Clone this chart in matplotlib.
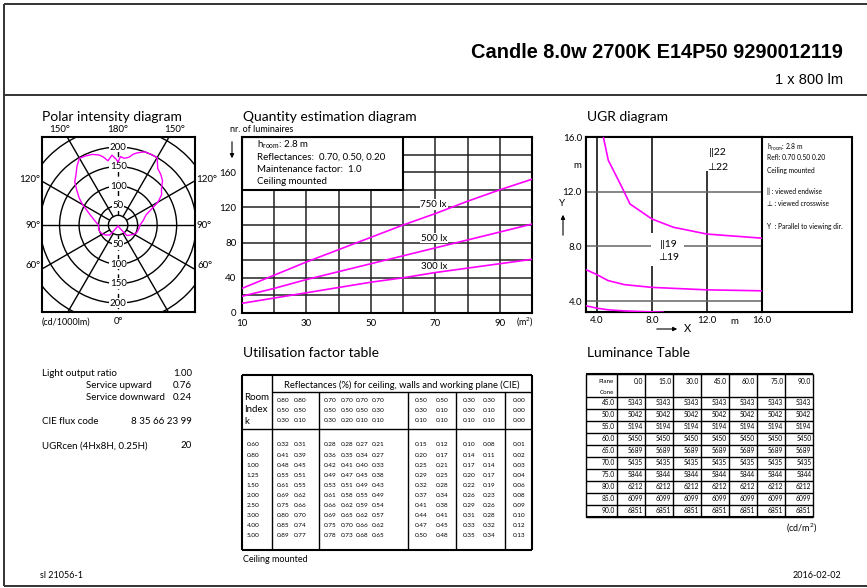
import numpy as np
import matplotlib
matplotlib.use('Agg')
import matplotlib.pyplot as plt
from matplotlib.patches import Rectangle, Circle

plt.rcParams['font.family'] = ['Lato', 'DejaVu Sans']
plt.rcParams['mathtext.fontset'] = 'custom'
plt.rcParams['mathtext.rm'] = 'Lato'
plt.rcParams['mathtext.it'] = 'Lato:italic'

W, H = 867, 588
MAGENTA = '#ff00ff'

# --- polar intensity diagram (cd/1000lm), gamma 0 = straight down
gamma = [0, 10, 20, 30, 40, 50, 60, 70, 80, 90, 100, 110, 120, 125, 130, 135,
         140, 145, 150, 155, 160, 165, 168, 171, 175, 178, 180]
i_left = [3, 3, 4, 8, 33, 40, 46, 50, 51, 50, 60, 76, 105, 122, 138, 157,
          168, 184, 198, 196, 193, 186, 178, 167, 180, 170, 162]
i_right = [3, 3, 4, 10, 35, 40, 47, 52, 54, 56, 65, 76, 118, 136, 145, 161,
           170, 177, 200, 200, 200, 192, 186, 176, 172, 176, 162]
polar_rings = [50, 100, 150, 200]

# --- quantity estimation diagram
area = [10, 20, 30, 40, 50, 60, 70, 80, 90, 100]
n_750 = [28, 43, 58, 72, 86, 100, 113, 127, 140, 152]
n_500 = [19, 28, 38, 47, 56, 65, 74, 83, 92, 101]
n_300 = [11, 17, 23, 29, 35, 40, 46, 51, 56, 61]

# --- UGR diagram
ugr22_x = [4.46, 4.82, 5.8, 6.4, 8.0, 9.55, 12.0, 16.0]
ugr22_y = [16.0, 14.3, 12.35, 11.1, 10.0, 9.4, 8.9, 8.6]
ugr19_x = [3.2, 4.0, 4.8, 6.0, 8.0, 12.0, 16.0]
ugr19_y = [6.3, 5.93, 5.5, 5.2, 5.0, 4.82, 4.75]
ugr_lo_x = [3.2, 4.0, 4.8, 6.0, 7.5, 8.8]
ugr_lo_y = [3.65, 3.48, 3.36, 3.28, 3.22, 3.19]

# --- utilisation factor table
refl_ceiling = ['0.80', '0.80', '0.70', '0.70', '0.70', '0.70', '0.50', '0.50', '0.30', '0.30', '0.00']
refl_walls = ['0.50', '0.50', '0.50', '0.50', '0.50', '0.30', '0.30', '0.10', '0.30', '0.10', '0.00']
refl_plane = ['0.30', '0.10', '0.30', '0.20', '0.10', '0.10', '0.10', '0.10', '0.10', '0.10', '0.00']
room_index = ['0.60', '0.80', '1.00', '1.25', '1.50', '2.00', '2.50', '3.00', '4.00', '5.00']
uf = [
    [0.32, 0.31, 0.28, 0.28, 0.27, 0.21, 0.15, 0.12, 0.10, 0.08, 0.01],
    [0.41, 0.39, 0.36, 0.35, 0.34, 0.27, 0.20, 0.17, 0.14, 0.11, 0.02],
    [0.48, 0.45, 0.42, 0.41, 0.40, 0.33, 0.25, 0.21, 0.17, 0.14, 0.03],
    [0.55, 0.51, 0.49, 0.47, 0.45, 0.38, 0.29, 0.25, 0.20, 0.17, 0.04],
    [0.61, 0.55, 0.53, 0.51, 0.49, 0.43, 0.32, 0.28, 0.22, 0.19, 0.06],
    [0.69, 0.62, 0.61, 0.58, 0.55, 0.49, 0.37, 0.34, 0.26, 0.23, 0.08],
    [0.75, 0.66, 0.66, 0.62, 0.59, 0.54, 0.41, 0.38, 0.29, 0.26, 0.09],
    [0.80, 0.70, 0.69, 0.65, 0.62, 0.57, 0.44, 0.41, 0.31, 0.28, 0.10],
    [0.85, 0.74, 0.75, 0.70, 0.66, 0.62, 0.47, 0.45, 0.33, 0.32, 0.12],
    [0.89, 0.77, 0.78, 0.73, 0.68, 0.65, 0.50, 0.48, 0.35, 0.34, 0.13],
]

# --- luminance table (cd/m2)
lum_planes = ['0.0', '15.0', '30.0', '45.0', '60.0', '75.0', '90.0']
lum_cones = ['45.0', '50.0', '55.0', '60.0', '65.0', '70.0', '75.0', '80.0', '85.0', '90.0']
lum_values = [5343, 5042, 5194, 5450, 5689, 5435, 5844, 6212, 6099, 6851]

# --- general info
info_rows = [
    ('Light output ratio', '1.00', 42),
    ('Service upward', '0.76', 86),
    ('Service downward', '0.24', 86),
]
cie_flux_code = '8 35 66 23 99'
ugr_cen = '20'


def box(x0, y0, x1, y1):
    """figure rect from pixel box (origin top-left)"""
    return [x0 / W, 1 - y1 / H, (x1 - x0) / W, (y1 - y0) / H]


fig = plt.figure(figsize=(W / 100, H / 100), dpi=100)
page = fig.add_axes([0, 0, 1, 1])
page.set_xlim(0, W)
page.set_ylim(H, 0)
page.axis('off')


def line(x, y, lw=1.0, color='k', **kw):
    page.plot(x, y, color=color, lw=lw, solid_capstyle='butt', **kw)


def txt(x, y, s, size=7, ha='left', **kw):
    page.text(x, y, s, fontsize=size, ha=ha, va='center', **kw)


def arrow(x0, y0, x1, y1):
    page.annotate('', xy=(x1, y1), xytext=(x0, y0),
                  arrowprops=dict(arrowstyle='-|>', lw=0.8, color='k', mutation_scale=6))


# page frame and header
line([4, W], [4, 4], lw=1.4, color='#333')
line([4, W], [95, 95], lw=1.4, color='#333')
line([4, 4], [4, 586], lw=1.4, color='#333')
line([4, W], [586, 586], lw=1.4, color='#333')
txt(843, 52, 'Candle 8.0w 2700K E14P50 9290012119', size=14.4, ha='right',
    family='Liberation Sans', weight='bold')
txt(843, 80, '1 x 800 lm', size=10.5, ha='right', family='Liberation Sans')

# section titles
txt(42, 117, 'Polar intensity diagram', size=10)
txt(243, 117, 'Quantity estimation diagram', size=10)
txt(587, 117, 'UGR diagram', size=10)
txt(243, 353, 'Utilisation factor table', size=10)
txt(587, 353, 'Luminance Table', size=10)

# ---------------- polar intensity diagram
pax = fig.add_axes(box(42, 137, 195, 312))
pax.set_xlim(-195, 197)
pax.set_ylim(-223, 226)
pax.set_xticks([])
pax.set_yticks([])
for s in pax.spines.values():
    s.set_linewidth(1.5)
for r in [25] + polar_rings + [250]:
    pax.add_patch(Circle((0, 0), r, fill=False, lw=1.0, color='k'))
for a in [30, 60, 120, 150]:
    t = np.radians(a)
    for sgn in (-1, 1):
        pax.plot([sgn * 25 * np.sin(t), sgn * 400 * np.sin(t)],
                 [-25 * np.cos(t), -400 * np.cos(t)], color='k', lw=1.0)
pax.plot([-400, 400], [0, 0], color='k', lw=1.0)
pax.plot([0, 0], [25, 400], color='k', lw=1.0, dashes=(4, 3))
pax.plot([0, 0], [-25, -400], color='k', lw=1.0, dashes=(4, 3))
for r in polar_rings:
    for sgn in (1, -1):
        pax.text(0, sgn * r, str(r), fontsize=7, ha='center', va='center',
                 bbox=dict(fc='white', ec='none', pad=0.4))
g = np.radians(gamma)
xr = np.array(i_right) * np.sin(g)
yr = -np.array(i_right) * np.cos(g)
xl = -np.array(i_left) * np.sin(g)
yl = -np.array(i_left) * np.cos(g)
pax.plot(np.concatenate([xr, xl[::-1]]), np.concatenate([yr, yl[::-1]]),
         color=MAGENTA, lw=1.0, zorder=5)

txt(60, 129, '150°', ha='center')
txt(118, 129, '180°', ha='center')
txt(175, 129, '150°', ha='center')
txt(30, 179, '120°', ha='center')
txt(207, 179, '120°', ha='center')
txt(33, 225, '90°', ha='center')
txt(204, 225, '90°', ha='center')
txt(33, 265, '60°', ha='center')
txt(205, 265, '60°', ha='center')
txt(66, 322, '(cd/1000lm)', ha='center', size=6.5)
txt(118, 322, '0°', ha='center')
txt(168, 299, 'γ', ha='center', size=7)
arrow(173, 300, 184, 292)

# ---------------- quantity estimation diagram
qax = fig.add_axes(box(242, 137, 532, 313))
qax.set_xlim(10, 100)
qax.set_ylim(0, 200)
for x in range(20, 100, 10):
    qax.axvline(x, color='#222', lw=1.1, zorder=1)
for y in range(20, 200, 20):
    qax.axhline(y, color='#222', lw=1.1, zorder=1)
qax.add_patch(Rectangle((10, 140), 50, 60, fc='white', ec='k', lw=1.5, zorder=2))
qax.text(14.7, 191, r'h$_{\mathrm{room}}$: 2.8 m', fontsize=7, va='center', zorder=3)
qax.text(14.7, 177, 'Reflectances:  0.70, 0.50, 0.20', fontsize=7, va='center', zorder=3)
qax.text(14.7, 163, 'Maintenance factor:  1.0', fontsize=7, va='center', zorder=3)
qax.text(14.7, 150, 'Ceiling mounted', fontsize=7, va='center', zorder=3)
for vals, lab, ly in [(n_750, '750 lx', 123.5), (n_500, '500 lx', 85), (n_300, '300 lx', 53)]:
    qax.plot(area, vals, color=MAGENTA, lw=1.2, zorder=4)
    qax.text(69.5, ly, lab, fontsize=7, ha='center', va='center', zorder=3,
             bbox=dict(fc='white', ec='none', pad=0.5))
qax.set_xticks([10, 30, 50, 70, 90])
qax.set_yticks([0, 40, 80, 120, 160])
qax.tick_params(length=0, labelsize=7, pad=4)
for s in qax.spines.values():
    s.set_linewidth(1.5)
txt(230, 130, 'nr. of luminaires', size=6.5)
arrow(232, 139, 232, 161)
txt(525, 322, '(m$^2$)', ha='center', size=6.5)

# ---------------- UGR diagram
page.add_patch(Rectangle((586, 137), 266, 175, fill=False, ec='k', lw=1.5))
uax = fig.add_axes(box(586, 137, 762, 312))
uax.set_xlim(3.2, 16)
uax.set_ylim(3.2, 16)
for x in [4, 8, 12]:
    uax.axvline(x, color='k', lw=1.1, zorder=1)
for y in [4, 8, 12]:
    uax.axhline(y, color='#666', lw=1.1, zorder=1)
uax.add_patch(Rectangle((7.9, 6.6), 2.4, 2.4, fc='white', ec='none', zorder=2))
uax.add_patch(Rectangle((11.9, 13.5), 2.2, 2.6, fc='white', ec='none', zorder=2))
uax.text(9.2, 8.15, '\u2016' + '19', fontsize=7.5, ha='center', va='center', zorder=3)
uax.text(9.2, 7.15, '\u22a5' + '19', fontsize=7.5, ha='center', va='center', zorder=3)
uax.text(12.75, 14.9, '\u2016' + '22', fontsize=7.5, ha='center', va='center', zorder=3)
uax.text(12.75, 13.8, '\u22a5' + '22', fontsize=7.5, ha='center', va='center', zorder=3)
for xs, ys in [(ugr22_x, ugr22_y), (ugr19_x, ugr19_y), (ugr_lo_x, ugr_lo_y)]:
    uax.plot(xs, ys, color=MAGENTA, lw=1.2, zorder=4)
uax.set_xticks([4, 8, 12, 16])
uax.set_xticklabels(['4.0', '8.0', '12.0', '16.0'])
uax.set_yticks([4, 8, 12, 16])
uax.set_yticklabels(['4.0', '8.0', '12.0', '16.0'])
uax.tick_params(length=0, labelsize=7, pad=3)
for s in uax.spines.values():
    s.set_linewidth(1.5)
txt(577, 165, 'm', ha='center')
txt(562, 203, 'Y', ha='center')
arrow(563, 238, 563, 212)
txt(734, 322, 'm', ha='center')
arrow(654, 329, 680, 329)
txt(688, 329, 'X', ha='center', size=8)
ugr_info = [(147, r'h$_{\mathrm{room}}$: 2.8 m'), (158, 'Refl: 0.70 0.50 0.20'),
            (170, 'Ceiling mounted'), (191, '\u2016 : viewed endwise'),
            (203, '\u22a5 : viewed crosswise'), (226, 'Y  : Parallel to viewing dir.')]
for y, s in ugr_info:
    txt(767, y, s, size=4.8)

# ---------------- general info (left column)
for (lab, val, x0), y in zip(info_rows, [373, 385, 397]):
    txt(x0, y, lab)
    txt(192, y, val, ha='right')
txt(42, 422, 'CIE flux code')
txt(192, 422, cie_flux_code, ha='right')
txt(42, 446, 'UGRcen (4Hx8H, 0.25H)')
txt(192, 446, ugr_cen, ha='right')
txt(40, 575, 'sl 21056-1', size=6.5)
txt(841, 575, '2016-02-02', ha='right', size=6.5)

# ---------------- utilisation factor table
t_top, t_bot, t_left, t_right = 374.5, 550, 242, 532
line([t_left, t_right], [t_top, t_top], lw=1.5)
line([t_left, t_right], [t_bot, t_bot], lw=1.5)
line([t_left, t_left], [t_top, t_bot], lw=1.5)
line([t_right, t_right], [t_top, t_bot], lw=1.5)
line([272, t_right], [391.7, 391.7], lw=1.0)
line([t_left, t_right], [429, 429], lw=1.0)
line([272, 272], [t_top, t_bot], lw=1.0)
for xv in [319, 408, 456, 505]:
    line([xv, xv], [391.7, t_bot], lw=1.0)
txt(402, 385, 'Reflectances (%) for ceiling, walls and working plane (CIE)', ha='center', size=6.75)
txt(244, 397, 'Room', size=7)
txt(244, 409, 'Index', size=7)
txt(244, 421, 'k', size=7)
col_x = [283.5, 300, 330.5, 347, 362.5, 378, 421, 442, 469, 489, 519]
for row, y in zip([refl_ceiling, refl_walls, refl_plane], [400, 410.5, 421]):
    for cx, v in zip(col_x, row):
        txt(cx, y, v, ha='center', size=4.6)
for i, (k, vals) in enumerate(zip(room_index, uf)):
    y = 445 + i * 10.1
    txt(253, y, k, ha='center', size=4.6)
    for cx, v in zip(col_x, vals):
        txt(cx, y, f'{v:.2f}', ha='center', size=4.6)
txt(243, 559, 'Ceiling mounted', size=6.5)

# ---------------- luminance table
col_edges = [586, 617] + [617 + 28.05 * (j + 1) for j in range(len(lum_planes))]
row_edges = [374, 397] + [397 + 11.97 * (j + 1) for j in range(len(lum_cones))]
for xv in col_edges:
    line([xv, xv], [row_edges[0], row_edges[-1]], lw=1.0)
for yv in row_edges:
    line([col_edges[0], col_edges[-1]], [yv, yv], lw=1.0)
line([col_edges[0], col_edges[-1]], [row_edges[0], row_edges[0]], lw=1.5)
line([col_edges[0], col_edges[-1]], [row_edges[-1], row_edges[-1]], lw=1.5)
txt(614, 381.5, 'Plane', ha='right', size=4.5)
txt(614, 392, 'Cone', ha='right', size=4.5)
for j, p in enumerate(lum_planes):
    txt(col_edges[j + 2] - 2, 381.5, p, ha='right', size=4.8)
for i, (c, v) in enumerate(zip(lum_cones, lum_values)):
    y = (row_edges[i + 1] + row_edges[i + 2]) / 2
    txt(col_edges[1] - 2, y, c, ha='right', size=4.8)
    for j in range(len(lum_planes)):
        txt(col_edges[j + 2] - 2, y, str(v), ha='right', size=4.8)
txt(817, 528, '(cd/m$^2$)', ha='right', size=6.5)

fig.savefig('out.png', dpi=100)
